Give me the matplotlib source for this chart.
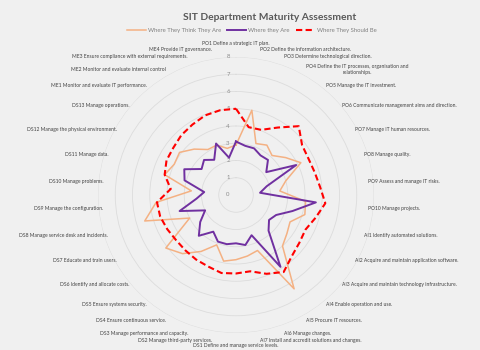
import numpy as np
import matplotlib
matplotlib.use("Agg")
import matplotlib.pyplot as plt
from matplotlib.transforms import offset_copy

categories = [
    "PO1 Define a strategic IT plan.",
    "PO2 Define the information architecture.",
    "PO3 Determine technological direction.",
    "PO4 Define the IT processes, organisation and\nrelationships.",
    "PO5 Manage the IT investment.",
    "PO6 Communicate management aims and direction.",
    "PO7 Manage IT human resources.",
    "PO8 Manage quality.",
    "PO9 Assess and manage IT risks.",
    "PO10 Manage projects.",
    "AI1 Identify automated solutions.",
    "AI2 Acquire and maintain application software.",
    "AI3 Acquire and maintain technology infrastructure.",
    "AI4 Enable operation and use.",
    "AI5 Procure IT resources.",
    "AI6 Manage changes.",
    "AI7 Install and accredit solutions and changes.",
    "DS1 Define and manage service levels.",
    "DS2 Manage third-party services.",
    "DS3 Manage performance and capacity.",
    "DS4 Ensure continuous service.",
    "DS5 Ensure systems security.",
    "DS6 Identify and allocate costs.",
    "DS7 Educate and train users.",
    "DS8 Manage service desk and incidents.",
    "DS9 Manage the configuration.",
    "DS10 Manage problems.",
    "DS11 Manage data.",
    "DS12 Manage the physical environment.",
    "DS13 Manage operations.",
    "ME1 Monitor and evaluate IT performance.",
    "ME2 Monitor and evaluate internal control",
    "ME3 Ensure compliance with external requirements.",
    "ME4 Provide IT governance.",
]

think_they_are = [2.9, 5.0, 3.2, 3.4, 3.1, 3.6, 4.2, 3.0, 2.55, 4.05,
                  4.15, 3.5, 3.7, 4.0, 6.4, 3.45, 3.6,
                  3.75, 3.9, 3.1, 3.85, 4.6, 5.1, 3.0, 5.5, 4.65, 2.6, 4.3, 4.0, 4.1,
                  3.6, 3.1, 3.1, 2.75]
they_are = [3.1, 2.9, 2.9, 2.7, 2.75, 2.2, 3.9, 1.85, 1.4, 4.65,
            3.4, 2.6, 2.4, 2.8, 4.9, 2.5, 2.95,
            2.8, 2.9, 2.9, 2.5, 3.2, 2.6, 2.0, 3.4, 2.3, 1.85, 3.1, 3.35, 2.5,
            2.75, 2.4, 3.2, 2.2]
should_be = [5.0, 4.0, 4.05, 4.6, 5.4, 4.8, 4.7, 4.75, 4.9, 5.2,
             4.8, 4.5, 4.6, 4.8, 5.25, 4.9, 4.5,
             4.55, 4.6, 4.45, 4.4, 4.35, 4.35, 4.45, 4.57, 4.6, 3.8, 4.3, 4.5, 4.55,
             4.7, 4.8, 4.95, 5.0]

series_names = ["Where They Think They Are", "Where they Are", "Where They Should Be"]
r_ticks = list(range(0, 9))

FONT = ["Lato", "DejaVu Sans"]
plt.rcParams["font.family"] = FONT

bg = "#f0f0f0"
fig = plt.figure(figsize=(4.8, 3.5), dpi=100, facecolor=bg)

cx, cy, R = 236, 195, 138
W, H = 480, 350
ax = fig.add_axes([(cx - R) / W, (H - cy - R) / H, 2 * R / W, 2 * R / H], projection="polar")
ax.set_facecolor("none")
ax.set_theta_zero_location("N")
ax.set_theta_direction(-1)

n = len(categories)
theta = np.arange(n) * 2 * np.pi / n
tc = np.append(theta, theta[0])

def closed(v):
    return np.append(np.array(v), v[0])

ax.plot(tc, closed(think_they_are), color="#F4B183", lw=1.1, label=series_names[0], zorder=3)
ax.plot(tc, closed(they_are), color="#7030A0", lw=1.4, label=series_names[1], zorder=4)
ax.plot(tc, closed(should_be), color="#FF0000", lw=1.5, ls=(0, (3, 1.6)), label=series_names[2], zorder=5)

ax.set_ylim(0, r_ticks[-1])
ax.set_yticks(r_ticks[1:])
ax.set_yticklabels([])
ax.set_xticks(theta)
ax.set_xticklabels([])
ax.xaxis.grid(False)
ax.yaxis.grid(True, color="#dcdcdc", lw=0.6)
ax.spines["polar"].set_visible(False)
ax.tick_params(length=0)

trans = offset_copy(ax.transData, fig=fig, x=-8, y=0, units="dots")
for k in r_ticks:
    ax.text(0, k, str(k), transform=trans, fontsize=4.3, color="#8c8c8c",
            ha="center", va="center")

a_lab = 133 / R
for t, lab in zip(theta, categories):
    s, c = np.sin(t), np.cos(t)
    b_lab = (148 + (3 if abs(c) > 0.99 else 0)) / R
    x = 0.5 + 0.5 * a_lab * s
    y = 0.5 + 0.5 * b_lab * c
    if s > 0.01:
        ha = "left"
    elif s < -0.01:
        ha = "right"
    else:
        ha = "center"
    ax.text(x, y, lab, transform=ax.transAxes, fontsize=3.6, color="#404040",
            ha=ha, va="center", multialignment="center", clip_on=False)

fig.text(270 / W, 1 - 17 / H, "SIT Department Maturity Assessment", ha="center", va="center",
         fontsize=7.4, fontweight="bold", color="#595959")

fig.legend(loc="center", bbox_to_anchor=(252 / W, 1 - 30 / H), ncol=3, frameon=False,
           fontsize=4.2, handlelength=3.2, columnspacing=1.0, handletextpad=0.4,
           labelcolor="#7f7f7f")

fig.savefig("out.png", dpi=100, facecolor=bg)
